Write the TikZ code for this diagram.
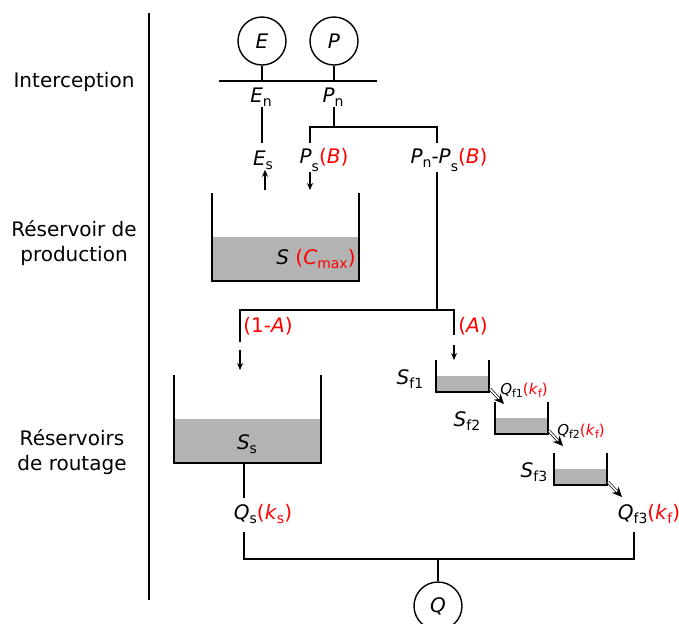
\documentclass[tikz,border=0pt]{standalone}
\usepackage{fontspec}
\setmainfont{DejaVu Sans}
\usetikzlibrary{arrows.meta,positioning}
\definecolor{param}{RGB}{255,0,0}
\definecolor{eau}{RGB}{179,179,179}
\newcommand{\ind}[2][2pt]{\raisebox{-#1}{\fontsize{7}{8}\selectfont #2}}
\newcommand{\petitind}[1]{\raisebox{-1.5pt}{\fontsize{5.5}{6}\selectfont #1}}
\newcommand{\prm}[1]{\textcolor{param}{#1}}

\begin{document}
\begin{tikzpicture}[x=0.5pt,y=-0.5pt,
  every node/.style={font=\fontsize{10}{12.5}\selectfont,inner sep=0pt},
  flux/.style={line width=0.7pt},
  fleche/.style={flux,-{Stealth[length=3.5pt,width=3pt]}},
  vidange/.style={line width=0.35pt,double,double distance=0.8pt,-{Stealth[length=5pt,width=4.5pt]}},
  cercle/.style={circle,draw,line width=0.7pt,minimum size=24pt},
  etage/.style={align=center},
  petit/.style={font=\fontsize{7.5}{9}\selectfont}]
\useasboundingbox (0,0) rectangle (679,623);

% colonne des etages
\draw[flux] (149,13) -- (149,600);
\node[etage] (l-int) at (74,82) {Interception};
\node[etage] (l-prod) at (74,243) {Réservoir de\\production};
\node[etage] (l-rout) at (72,452) {Réservoirs\\de routage};

% interception
\node[cercle] (E) at (262,41) {\textit{E}};
\node[cercle] (P) at (334,41) {\textit{P}};
\coordinate (barre-g) at (219,81);
\coordinate (barre-d) at (377,81);
\draw[flux] (barre-g) -- (barre-d);
\draw[flux] (E) -- (E |- barre-g);
\draw[flux] (P) -- (P |- barre-g);
\node (En) at (261,97) {\textit{E}\ind{n}};
\node (Pn) at (333,97) {\textit{P}\ind{n}};
\node (Es) at (263,160) {\textit{E}\ind{s}};
\node (Ps) at (324,160) {\textit{P}\ind[4pt]{s}\prm{(\textit{B})}};
\node (PnPs) at (449,160) {\textit{P}\ind{n}-\textit{P}\ind[4pt]{s}\prm{(\textit{B})}};
\draw[flux,shorten >=3.5pt] (En.south -| E) -- (Es.north -| E);
\coordinate (fourche) at (334,127);
\coordinate (ps-haut) at (310,143);
\coordinate (pnps-haut) at (437,143);
\draw[flux] (Pn.south -| fourche) -- (fourche);
\draw[flux] (ps-haut) |- (fourche) -| (pnps-haut);

% reservoir de production
\coordinate (es-bas) at (265,190);
\coordinate (ps-bas) at (310,190);
\draw[fleche] (es-bas) -- (es-bas |- Es.south);
\draw[fleche] (Ps.south -| ps-bas) -- (ps-bas);
\fill[eau] (212,237) rectangle (359,281);
\draw[flux] (212,193) |- (359,281) -- (359,193);
\node (S) at (316,259) {\textit{S} \prm{(\textit{C}\ind{max})}};

% partage
\coordinate (partage) at (437,310);
\coordinate (lent-haut) at (240,342);
\coordinate (rapide-haut) at (454,335);
\draw[flux] (PnPs.south -| partage) -- (partage);
\draw[flux] (lent-haut) |- (partage) -| (rapide-haut);
\node[text=param] (unmoinsA) at (268,326) {(1-\textit{A})};
\node[text=param] (partA) at (473,326) {(\textit{A})};
\coordinate (Ss-entree) at (240,370);
\coordinate (Sf1-entree) at (454,360);
\draw[fleche] ([yshift=10pt]Ss-entree) -- (Ss-entree);
\draw[fleche] ([yshift=7.5pt]Sf1-entree) -- (Sf1-entree);

% routage lent
\fill[eau] (174,419) rectangle (321,463);
\draw[flux] (174,375) |- (321,463) -- (321,375);
\node (Ss) at (247,444) {\textit{S}\ind{s}};
\coordinate (Ss-sortie) at (244,463);
\node (Qs) at (263,514) {\textit{Q}\ind{s}\prm{(\textit{k}\ind{s})}};
\draw[flux,shorten >=3pt] (Ss-sortie) -- (Ss-sortie |- Qs.north);

% routage rapide
\foreach \i/\x/\y/\lx in {1/436/360/410, 2/495/402/467, 3/554/453/534} {
  \fill[eau] (\x,{\y+16}) rectangle ({\x+53},{\y+32});
  \draw[flux] (\x,\y) |- ({\x+53},{\y+32}) -- ({\x+53},\y);
  \node (Sf\i) at (\lx,{\y+19}) {\textit{S}\ind{f\i}};
  \coordinate (Sf\i-coin) at ({\x+54},{\y+29});
  \coordinate (Sf\i-sortie) at ({\x+68},{\y+44});
  \draw[vidange] (Sf\i-coin) -- (Sf\i-sortie);
}
\foreach \i/\x/\y in {1/524/390, 2/581/431}
  \node[petit] (Qf\i) at (\x,\y) {\textit{Q}\petitind{f\i}\prm{(\textit{k}\petitind{f})}};
\node (Qf3) at (649,514) {\textit{Q}\ind{f3}\prm{(\textit{k}\ind{f})}};

% debit total
\coordinate (qs-pied) at (244,532);
\coordinate (qf3-pied) at (634,532);
\coordinate (somme) at (438,559);
\draw[flux] (qs-pied) |- (somme) -| (qf3-pied);
\node[cercle] (Q) at (438,606) {\textit{Q}};
\draw[flux] (somme) -- (Q);
\end{tikzpicture}
\end{document}
